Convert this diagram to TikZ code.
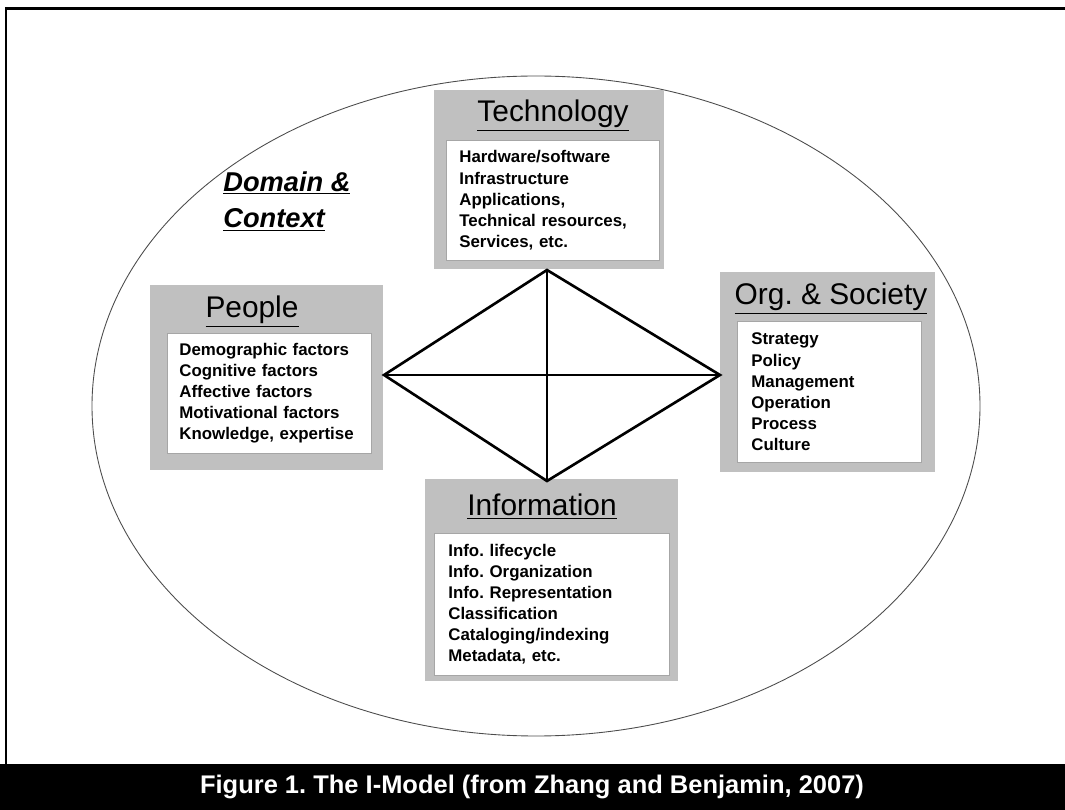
\documentclass[tikz,border=0pt]{standalone}
\usepackage{fontspec}
\setmainfont{Liberation Sans}
\frenchspacing

\tikzset{
  graybox/.style={fill={rgb,255:red,192;green,192;blue,192}, anchor=north west, inner sep=0pt},
  listbox/.style={draw=gray!70, fill=white, anchor=north west, align=left, inner ysep=0pt,
    font=\fontsize{9.6}{12}\selectfont\bfseries},
  titletext/.style={anchor=base, inner sep=0pt, font=\fontsize{17}{19}\selectfont},
  linkline/.style={line width=1.5pt, line join=miter}
}

\begin{document}
\begin{tikzpicture}[x=0.02cm, y=-0.02cm]
  \useasboundingbox (0,0) rectangle (1065,810);

  % Frame and caption bar
  \draw[line width=1.7pt] (6,764) -- (6,9) -- (1065,9);
  \fill[black] (0,764) rectangle (1065,810);
  \node[text=white, font=\fontsize{14.5}{16}\selectfont\bfseries] (caption) at (532,787)
    {Figure 1. The I-Model (from Zhang and Benjamin, 2007)};

  % Domain ellipse
  \draw[gray!60!black, line width=0.5pt] (536,406) ellipse [x radius=444, y radius=330];
  \node[anchor=base west, inner sep=0pt, align=left, font=\fontsize{15.5}{21}\selectfont\bfseries\itshape]
    (domain) at (223,228) {\underline{Domain \&}\\\underline{Context}};

  % Gray boxes
  \node[graybox, minimum width=4.6cm, minimum height=3.58cm] (techbox) at (434,90) {};
  \node[graybox, minimum width=4.66cm, minimum height=3.7cm] (peoplebox) at (150,285) {};
  \node[graybox, minimum width=4.3cm, minimum height=4.0cm] (orgbox) at (720,272) {};
  \node[graybox, minimum width=5.06cm, minimum height=4.04cm] (infobox) at (425,479) {};

  % Titles
  \node[titletext] (techtitle) at (553,122) {\underline{Technology}};
  \node[titletext] (peopletitle) at (252,318) {\underline{People}};
  \node[titletext] (orgtitle) at (831,305) {\underline{Org. \& Society}};
  \node[titletext] (infotitle) at (542,516) {\underline{Information}};

  % Lists
  \node[listbox, inner xsep=0.26cm, text width=3.74cm, minimum height=2.4cm] (techlist) at (446,140)
    {Hardware/software\\Infrastructure\\Applications,\\Technical resources,\\Services, etc.};
  \node[listbox, inner xsep=0.24cm, text width=3.6cm, minimum height=2.4cm] (peoplelist) at (167,333)
    {Demographic factors\\Cognitive factors\\Affective factors\\Motivational factors\\Knowledge, expertise};
  \node[listbox, inner xsep=0.28cm, text width=3.12cm, minimum height=2.82cm] (orglist) at (737,321)
    {Strategy\\Policy\\Management\\Operation\\Process\\Culture};
  \node[listbox, inner xsep=0.28cm, text width=4.14cm, minimum height=2.84cm] (infolist) at (434,533)
    {Info. lifecycle\\Info. Organization\\Info. Representation\\Classification\\Cataloging/indexing\\Metadata, etc.};

  % Diamond corners
  \coordinate (top) at (547,270);
  \coordinate (left) at (384,375);
  \coordinate (right) at (720,375);
  \coordinate (bottom) at (547,481);

  % Draw links
  \draw[linkline] (top) -- (right) -- (bottom) -- (left) -- cycle;
  \draw[linkline] (top) -- (bottom);
  \draw[linkline] (left) -- (right);
\end{tikzpicture}
\end{document}
